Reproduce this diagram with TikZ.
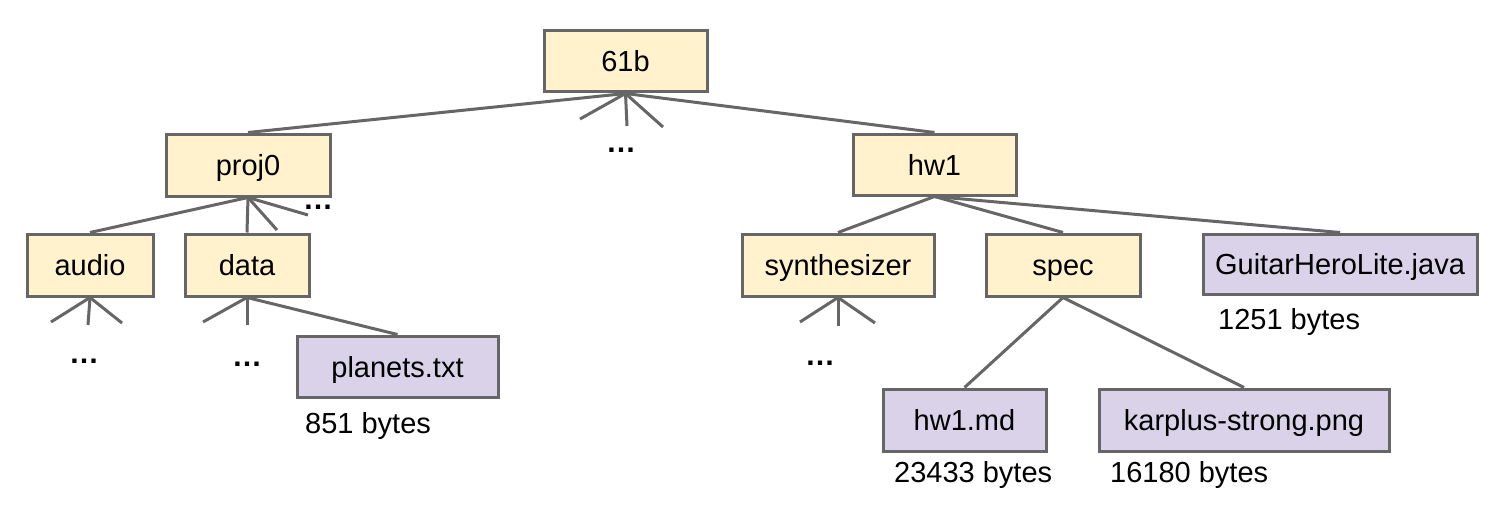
\documentclass[tikz,border=0pt]{standalone}
\usepackage{fontspec}
\setmainfont{Liberation Sans}
\begin{document}
\begin{tikzpicture}[x=1pt,y=-1pt,
  every node/.style={font=\fontsize{29}{34}\selectfont},
  dirbox/.style={draw=linegray, line width=3pt, fill=dirfill, inner sep=0pt, text height=21pt, text depth=0pt},
  filebox/.style={draw=linegray, line width=3pt, fill=filefill, inner sep=0pt, text height=21pt, text depth=0pt},
  edge/.style={draw=linegray, line width=3pt},
  sizelabel/.style={anchor=base west, inner sep=0pt},
  dots/.style={anchor=base, inner sep=0pt, font=\fontsize{30}{34}\selectfont\bfseries}]
\definecolor{linegray}{HTML}{666666}
\definecolor{dirfill}{HTML}{FFF2CC}
\definecolor{filefill}{HTML}{D9D2E9}
\useasboundingbox[fill=white] (0,0) rectangle (1498,524);

% nodes
\node[dirbox, minimum width=163pt, minimum height=61pt] (root) at (625.5,61.5) {61b};
\node[dirbox, minimum width=164pt, minimum height=62pt] (proj0) at (248,165) {proj0};
\node[dirbox, minimum width=163pt, minimum height=61pt] (hw1) at (934.5,164.5) {hw1};
\node[dirbox, minimum width=126pt, minimum height=62pt] (audio) at (90,265) {audio};
\node[dirbox, minimum width=124pt, minimum height=62pt] (data) at (247,265) {data};
\node[filebox, minimum width=201pt, minimum height=61pt] (planets) at (397.5,366.5) {planets.txt};
\node[dirbox, minimum width=192pt, minimum height=62pt] (synth) at (838,265) {synthesizer};
\node[dirbox, minimum width=154pt, minimum height=62pt] (spec) at (1063,265) {spec};
\node[filebox, minimum width=274pt, minimum height=60pt] (guitar) at (1340,264) {GuitarHeroLite.java};
\node[filebox, minimum width=163pt, minimum height=62pt] (hwmd) at (964.5,420) {hw1.md};
\node[filebox, minimum width=290pt, minimum height=62pt] (karplus) at (1244,420) {karplus-strong.png};

% size labels
\node[sizelabel] (s851) at (305,433) {851 bytes};
\node[sizelabel] (s1251) at (1218,329) {1251 bytes};
\node[sizelabel] (s23433) at (894,482) {23433 bytes};
\node[sizelabel] (s16180) at (1110,482) {16180 bytes};

% ellipses
\node[dots] (d0) at (621,153) {…};
\node[dots] (d1) at (318,209) {…};
\node[dots] (d2) at (84,363) {…};
\node[dots] (d3) at (247,366) {…};
\node[dots] (d4) at (820,365) {…};

% stub ends
\coordinate (r1) at (580,119);
\coordinate (r2) at (627,126);
\coordinate (r3) at (663,127);
\coordinate (p1) at (277,230);
\coordinate (p2) at (308,215);
\coordinate (a1) at (51,322);
\coordinate (a2) at (88,325);
\coordinate (a3) at (122,323);
\coordinate (t1) at (203,322);
\coordinate (t2) at (247,325);
\coordinate (y1) at (800,322);
\coordinate (y2) at (838,326);
\coordinate (y3) at (875,323);

% edges
\draw[edge] (root.south) -- (proj0.north);
\draw[edge] (root.south) -- (hw1.north);
\draw[edge] (root.south) -- (r1);
\draw[edge] (root.south) -- (r2);
\draw[edge] (root.south) -- (r3);
\draw[edge] (proj0.south) -- (audio.north);
\draw[edge] (proj0.south) -- (data.north);
\draw[edge] (proj0.south) -- (p1);
\draw[edge] (proj0.south) -- (p2);
\draw[edge] (audio.south) -- (a1);
\draw[edge] (audio.south) -- (a2);
\draw[edge] (audio.south) -- (a3);
\draw[edge] (data.south) -- (t1);
\draw[edge] (data.south) -- (t2);
\draw[edge] (data.south) -- (planets.north);
\draw[edge] (hw1.south) -- (synth.north);
\draw[edge] (hw1.south) -- (spec.north);
\draw[edge] (hw1.south) -- (guitar.north);
\draw[edge] (synth.south) -- (y1);
\draw[edge] (synth.south) -- (y2);
\draw[edge] (synth.south) -- (y3);
\draw[edge] (spec.south) -- (hwmd.north);
\draw[edge] (spec.south) -- (karplus.north);
\end{tikzpicture}
\end{document}
